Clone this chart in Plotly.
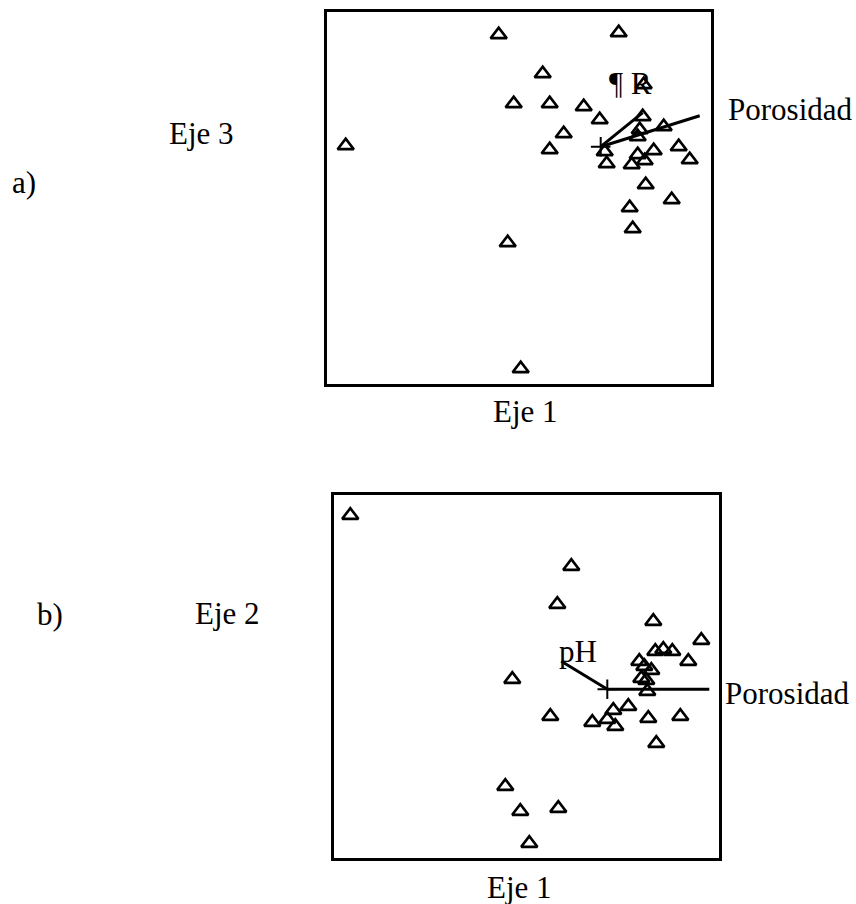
import plotly.graph_objects as go

W, H = 856, 904

# ---- Panel a (Eje 1 vs Eje 3) site scores ----
a_x = [-1.02, 0.18, -0.58, 0.43, -0.87, -0.51, -0.17, -0.01, 0.42, 0.63, 0.39, 0.37,
       -0.37, -2.55, -0.51, 0.04, 0.53, 0.78, 0.37, 0.44, 0.06, 0.31, 0.89, 0.45,
       0.71, 0.29, 0.32, -0.93, -0.80]
a_y = [1.12, 1.14, 0.73, 0.62, 0.43, 0.43, 0.40, 0.27, 0.30, 0.20, 0.17, 0.10,
       0.13, 0.01, -0.03, -0.05, -0.04, 0.00, -0.08, -0.14, -0.17, -0.18, -0.13, -0.38,
       -0.53, -0.61, -0.82, -0.96, -2.22]
a_vec_names = ["¶ R", "Porosidad"]
a_vec_x = [0.42, 0.99]
a_vec_y = [0.34, 0.31]
a_xrange = [-2.737, 1.103]
a_yrange = [-2.373, 1.347]

# ---- Panel b (Eje 1 vs Eje 2) site scores ----
b_x = [-2.57, -0.36, -0.50, 0.46, 0.94, 0.48, 0.56, 0.65, 0.81, 0.32, 0.37, 0.44,
       0.34, 0.39, 0.40, -0.95, 0.21, 0.06, 0.00, 0.08, -0.15, -0.57, 0.41, 0.73,
       0.49, -1.02, -0.87, -0.49, -0.78]
b_y = [1.74, 1.23, 0.85, 0.68, 0.49, 0.38, 0.40, 0.38, 0.28, 0.28, 0.23, 0.19,
       0.11, 0.09, -0.02, 0.10, -0.17, -0.21, -0.30, -0.37, -0.33, -0.27, -0.29, -0.27,
       -0.54, -0.97, -1.22, -1.19, -1.54]
b_vec_names = ["pH", "Porosidad"]
b_vec_x = [-0.46, 1.02]
b_vec_y = [0.28, 0.0]
b_xrange = [-2.733, 1.117]
b_yrange = [-1.687, 1.943]

FONT = "Liberation Serif"
FS = 31

fig = go.Figure()


def add_panel(xs, ys, vx, vy, names, label_cfg, xa, ya):
    fig.add_trace(go.Scatter(
        x=xs, y=ys, mode="markers", xaxis=xa, yaxis=ya, showlegend=False,
        marker=dict(symbol="triangle-up-open", size=14, color="black",
                    line=dict(width=2.7, color="black")),
        cliponaxis=False))
    for ex, ey in zip(vx, vy):
        fig.add_trace(go.Scatter(
            x=[0, ex], y=[0, ey], mode="lines", xaxis=xa, yaxis=ya,
            showlegend=False, line=dict(color="black", width=3)))
    fig.add_trace(go.Scatter(
        x=[0], y=[0], mode="markers", xaxis=xa, yaxis=ya, showlegend=False,
        marker=dict(symbol="cross-thin-open", size=14, color="black",
                    line=dict(width=2, color="black"))))
    # vector labels, anchored at the arrow tips
    for name, ex, ey, (anc, dx, dy) in zip(names, vx, vy, label_cfg):
        fig.add_annotation(x=ex, y=ey, xref=xa, yref=ya, text=name,
                           showarrow=False, xanchor=anc, yanchor="middle",
                           xshift=dx, yshift=dy,
                           font=dict(family=FONT, size=FS, color="black"))


add_panel(a_x, a_y, a_vec_x, a_vec_y, a_vec_names,
          [("center", -12, 29), ("left", 26, 6)], "x", "y")
add_panel(b_x, b_y, b_vec_x, b_vec_y, b_vec_names,
          [("center", 17, 10), ("left", 14, -4)], "x2", "y2")

axis_style = dict(showgrid=False, zeroline=False, showticklabels=False,
                  ticks="", showline=True, mirror=True, linewidth=3,
                  linecolor="black")

fig.update_layout(
    width=W, height=H, margin=dict(l=0, r=0, t=0, b=0),
    paper_bgcolor="white", plot_bgcolor="white", showlegend=False,
    xaxis=dict(domain=[327 / W, 711 / W], range=a_xrange, anchor="y", **axis_style),
    yaxis=dict(domain=[1 - 384 / H, 1 - 12 / H], range=a_yrange, anchor="x", **axis_style),
    xaxis2=dict(domain=[334 / W, 719 / W], range=b_xrange, anchor="y2", **axis_style),
    yaxis2=dict(domain=[1 - 858 / H, 1 - 495 / H], range=b_yrange, anchor="x2", **axis_style),
)

# Panel and axis labels (paper coordinates)
outer_labels = [("a)", 24, 182), ("Eje 3", 201, 134), ("Eje 1", 525, 411),
                ("b)", 50, 614), ("Eje 2", 228, 613), ("Eje 1", 519, 887)]
for txt, px, py in outer_labels:
    fig.add_annotation(x=px / W, y=1 - py / H, xref="paper", yref="paper",
                       text=txt, showarrow=False, xanchor="center", yanchor="middle",
                       font=dict(family=FONT, size=FS, color="black"))

fig.write_html("out.html")
